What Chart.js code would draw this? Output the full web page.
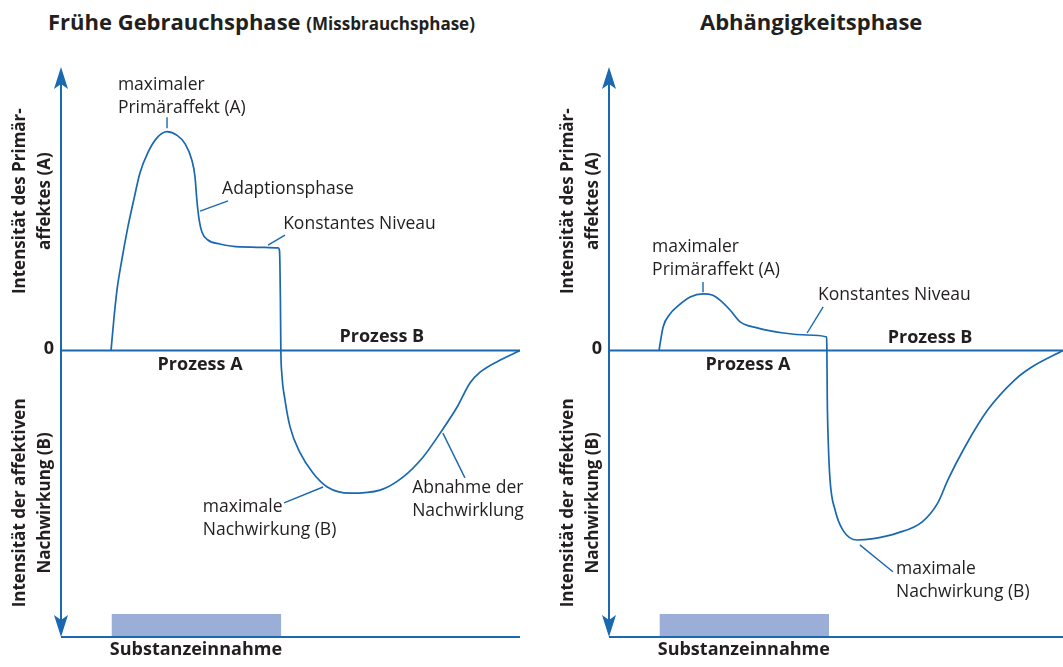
<!DOCTYPE html>
<html>
<head>
<meta charset="utf-8">
<script src="https://cdn.jsdelivr.net/npm/chart.js@4"></script>
<style>
  body { margin: 0; width: 1063px; height: 667px; overflow: hidden; background: #fff; font-family: "Open Sans", sans-serif; color: #231f20; }
  canvas { position: absolute; top: 0; }
  .title { position: absolute; top: 6px; font-weight: bold; font-size: 22px; white-space: nowrap; }
  .title span { font-size: 17px; }
</style>
</head>
<body>
<div class="title" style="left:48px">Frühe Gebrauchsphase <span>(Missbrauchsphase)</span></div>
<div class="title" style="left:700px">Abhängigkeitsphase</div>
<canvas id="early" width="531" height="667" style="left:0"></canvas>
<canvas id="dep" width="532" height="667" style="left:531px"></canvas>
<script>
// curve values (x: time, y: intensity, 0 = baseline)
const earlyX = [10.9, 11.5, 12.2, 13.2, 14.5, 15.9, 17.2, 18.9, 20.9, 23.1, 25.3, 27.0, 28.5, 29.2, 29.6, 30.1, 30.7, 32.0, 34.6, 39.0, 47.3, 47.6, 47.7, 47.8, 47.9, 48.1, 48.8, 49.9, 52.1, 54.9, 58.0, 63.0, 69.5, 74.5, 78.9, 82.6, 86.3, 89.1, 91.3, 95.6, 100];
const earlyY = [0, 10.8, 21.4, 31.5, 43.0, 53.5, 62.6, 69.7, 75.0, 77.2, 75.9, 73.0, 67.2, 61.2, 53.1, 46.1, 41.8, 39.0, 37.6, 36.6, 36.2, 35.3, 30.0, 17.7, 0, -7.9, -17.4, -26.9, -36.1, -43.2, -48.1, -50.3, -49.2, -44.6, -37.5, -29.1, -19.9, -11.4, -7.6, -3.4, 0];

const depX = [10.9, 11.8, 13.3, 14.8, 17.7, 20.5, 22.5, 24.2, 26.4, 28.6, 32.3, 38.0, 43.2, 47.45, 47.5, 47.6, 47.8, 48.2, 49.3, 51.0, 54.1, 57.3, 63.0, 68.3, 71.7, 73.9, 77.6, 82.6, 88.5, 92.2, 99];
const depY = [0, 8.3, 12.9, 15.4, 18.9, 20.0, 19.6, 17.8, 14.3, 10.1, 8.0, 6.2, 5.5, 4.8, 2.0, -17.4, -31.5, -45.6, -56.2, -63.3, -66.8, -66.4, -64.3, -60.4, -53.7, -45.6, -34.0, -20.9, -10.3, -5.8, 0];

// substance intake (bar along the time axis)
const intakeX = [11, 48];
const intakeLevel = -92.9;

const zeroTick = '0';
const axisTitleA = ['Intensität des Primär-', 'affektes (A)'];
const axisTitleB = ['Intensität der affektiven', 'Nachwirkung (B)'];

const BLUE = '#1a68b0';
const INK = '#231f20';

function pts(xs, ys) {
  return xs.map((x, i) => ({ x: x, y: ys[i] }));
}

function arrow(ctx, x, tip, dir) {
  // dir -1 = pointing up, 1 = pointing down
  ctx.beginPath();
  ctx.moveTo(x, tip);
  ctx.lineTo(x - 7, tip - dir * 22);
  ctx.lineTo(x, tip - dir * 17);
  ctx.lineTo(x + 7, tip - dir * 22);
  ctx.closePath();
  ctx.fill();
}

const diagram = {
  id: 'diagram',
  afterDatasetsDraw(chart, args, opts) {
    const { ctx, chartArea: a, scales: { x, y } } = chart;
    const y0 = y.getPixelForValue(0);
    ctx.save();
    // axes
    ctx.strokeStyle = BLUE;
    ctx.fillStyle = BLUE;
    ctx.lineWidth = 2;
    ctx.beginPath();
    ctx.moveTo(a.left, a.top + 12); ctx.lineTo(a.left, a.bottom - 12);
    ctx.moveTo(a.left, y0); ctx.lineTo(a.right, y0);
    ctx.moveTo(a.left, a.bottom); ctx.lineTo(a.right, a.bottom);
    ctx.stroke();
    arrow(ctx, a.left, a.top, -1);
    arrow(ctx, a.left, a.bottom, 1);

    // leader lines
    ctx.lineWidth = 1.4;
    opts.leaders.forEach(l => {
      ctx.beginPath();
      ctx.moveTo(x.getPixelForValue(l[0]), y.getPixelForValue(l[1]));
      ctx.lineTo(x.getPixelForValue(l[2]), y.getPixelForValue(l[3]));
      ctx.stroke();
    });

    // notes
    ctx.fillStyle = INK;
    ctx.textBaseline = 'middle';
    ctx.font = '17.5px "Open Sans"';
    ctx.textAlign = 'left';
    opts.notes.forEach(n => {
      n.lines.forEach((t, i) => {
        ctx.fillText(t, x.getPixelForValue(n.x), y.getPixelForValue(n.y) + i * 23);
      });
    });
    ctx.font = 'bold 18px "Open Sans"';
    ctx.textAlign = 'center';
    opts.bold.forEach(b => {
      ctx.fillText(b.text, x.getPixelForValue(b.x), y.getPixelForValue(b.y));
    });
    ctx.font = 'bold 18px "Open Sans"';
    ctx.fillText(zeroTick, a.left - 12, y0 - 2);

    // rotated axis titles
    ctx.font = 'bold 17px "Open Sans"';
    [[axisTitleA, 52.7], [axisTitleB, -53.7]].forEach(([lines, v]) => {
      ctx.save();
      ctx.translate(a.left - 41, y.getPixelForValue(v));
      ctx.rotate(-Math.PI / 2);
      ctx.fillText(lines[0], 0, 0);
      ctx.fillText(lines[1], 0, 25);
      ctx.restore();
    });
    ctx.restore();
  }
};

function makeChart(id, xs, ys, xMax, padLeft, padRight, panel) {
  return new Chart(document.getElementById(id), {
    type: 'line',
    data: {
      datasets: [
        {
          data: pts(xs, ys),
          borderColor: BLUE,
          borderWidth: 1.7,
          pointRadius: 0,
          cubicInterpolationMode: 'monotone',
          fill: false
        },
        {
          data: [{ x: intakeX[0], y: intakeLevel }, { x: intakeX[1], y: intakeLevel }],
          borderWidth: 0,
          pointRadius: 0,
          backgroundColor: '#9aaed8',
          fill: 'start'
        }
      ]
    },
    options: {
      responsive: false,
      animation: false,
      layout: { padding: { left: padLeft, right: padRight, top: 67, bottom: 30 } },
      scales: {
        x: { type: 'linear', min: 0, max: xMax, display: false },
        y: { min: -101, max: 100, display: false }
      },
      plugins: {
        legend: { display: false },
        tooltip: { enabled: false },
        diagram: panel
      }
    },
    plugins: [diagram]
  });
}

makeChart('early', earlyX, earlyY, 100, 61, 11, {
  notes: [
    { lines: ['maximaler', 'Primäraffekt (A)'], x: 12.4, y: 93.6 },
    { lines: ['Adaptionsphase'], x: 35.1, y: 57.0 },
    { lines: ['Konstantes Niveau'], x: 48.4, y: 44.6 },
    { lines: ['maximale', 'Nachwirkung (B)'], x: 30.9, y: -55.1 },
    { lines: ['Abnahme der', 'Nachwirklung'], x: 76.5, y: -48.4 }
  ],
  leaders: [[23.1, 82.3, 23.1, 78.4], [30.3, 49.2, 36.4, 52.8], [45.1, 37.2, 48.8, 40.7], [48.6, -53.7, 57.1, -48.1], [83.2, -29.1, 88.0, -44.9]],
  bold: [
    { text: 'Prozess A', x: 30.3, y: -5.1 },
    { text: 'Prozess B', x: 69.9, y: 4.8 },
    { text: 'Substanzeinnahme', x: 29.4, y: -105.6 }
  ]
});

makeChart('dep', depX, depY, 99, 78, 0, {
  notes: [
    { lines: ['maximaler', 'Primäraffekt (A)'], x: 9.4, y: 36.5 },
    { lines: ['Konstantes Niveau'], x: 45.6, y: 19.6 },
    { lines: ['maximale', 'Nachwirkung (B)'], x: 62.6, y: -77.0 }
  ],
  leaders: [[20.5, 24.2, 20.5, 20.6], [43.2, 6.2, 46.7, 15.4], [54.7, -68.5, 61.9, -78.0]],
  bold: [
    { text: 'Prozess A', x: 30.3, y: -5.1 },
    { text: 'Prozess B', x: 70.0, y: 4.4 },
    { text: 'Substanzeinnahme', x: 29.4, y: -105.6 }
  ]
});
</script>
</body>
</html>
